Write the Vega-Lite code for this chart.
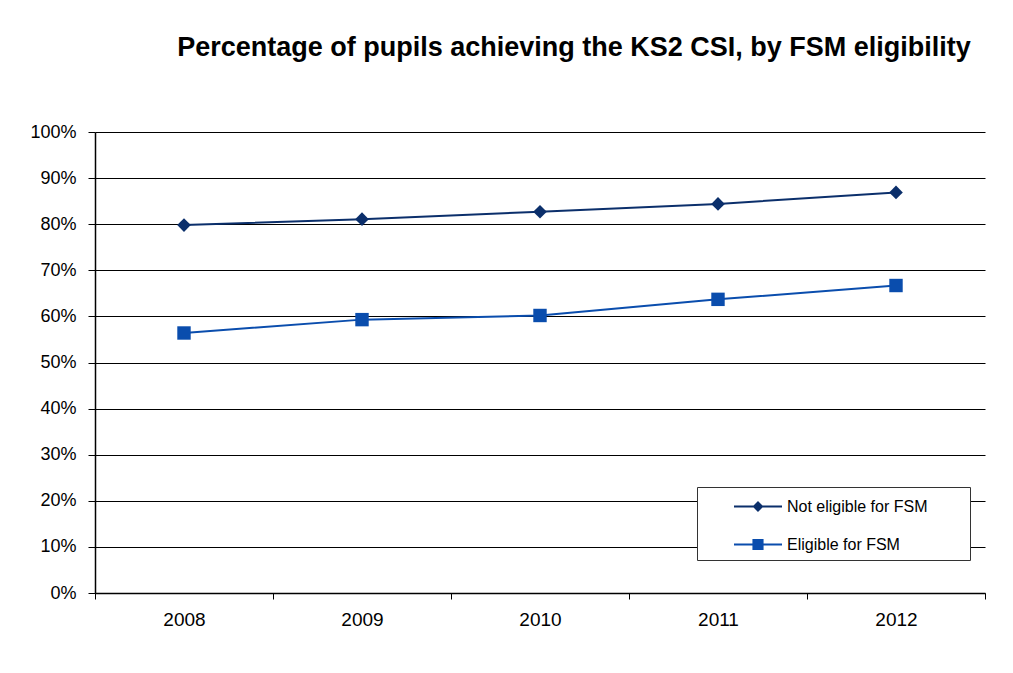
{
  "$schema": "https://vega.github.io/schema/vega-lite/v6.json",
  "width": 890,
  "height": 461,
  "autosize": "none",
  "padding": {"left": 95, "top": 132, "right": 28, "bottom": 80},
  "background": "white",
  "config": {
    "font": "Liberation Sans",
    "view": {"stroke": null},
    "axis": {"labelFont": "Liberation Sans", "labelColor": "#000", "domainColor": "#000", "tickColor": "#000", "titleFont": "Liberation Sans"}
  },
  "title": {
    "text": "Percentage of pupils achieving the KS2 CSI, by FSM eligibility",
    "font": "Liberation Sans",
    "fontSize": 27,
    "fontWeight": "bold",
    "color": "#000",
    "anchor": "middle",
    "baseline": "alphabetic",
    "dx": 34,
    "offset": 40
  },
  "data": {
    "values": [
      {"year": "2008", "series": "Not eligible for FSM", "pct": 79.8},
      {"year": "2009", "series": "Not eligible for FSM", "pct": 81.1},
      {"year": "2010", "series": "Not eligible for FSM", "pct": 82.7},
      {"year": "2011", "series": "Not eligible for FSM", "pct": 84.4},
      {"year": "2012", "series": "Not eligible for FSM", "pct": 86.9},
      {"year": "2008", "series": "Eligible for FSM", "pct": 56.4},
      {"year": "2009", "series": "Eligible for FSM", "pct": 59.3},
      {"year": "2010", "series": "Eligible for FSM", "pct": 60.2},
      {"year": "2011", "series": "Eligible for FSM", "pct": 63.7},
      {"year": "2012", "series": "Eligible for FSM", "pct": 66.7}
    ]
  },
  "encoding": {
    "x": {
      "field": "year",
      "type": "ordinal",
      "scale": {"type": "band", "paddingInner": 0, "paddingOuter": 0},
      "axis": {"title": null, "labelAngle": 0, "labelFontSize": 19, "tickBand": "extent", "tickSize": 6, "labelPadding": 11, "domainWidth": 1.5, "grid": false}
    },
    "y": {
      "field": "pct",
      "type": "quantitative",
      "scale": {"domain": [0, 100], "nice": false},
      "axis": {"title": null, "values": [0, 10, 20, 30, 40, 50, 60, 70, 80, 90, 100], "labelExpr": "datum.value + '%'", "labelFontSize": 18, "tickSize": 7, "labelPadding": 12, "grid": true, "gridColor": "#000", "gridWidth": 1, "gridOpacity": 1, "domainWidth": 1.5}
    },
    "color": {
      "field": "series",
      "type": "nominal",
      "scale": {"domain": ["Not eligible for FSM", "Eligible for FSM"], "range": ["#0B2F6B", "#0A4DAD"]},
      "legend": {
        "title": null,
        "orient": "none",
        "legendX": 602,
        "legendY": 355,
        "direction": "vertical",
        "fillColor": "white",
        "strokeColor": "#333",
        "padding": 6.5,
        "symbolOffset": 41.5,
        "symbolSize": 576,
        "symbolStrokeWidth": 2,
        "rowPadding": 16,
        "labelFont": "Liberation Sans",
        "labelFontSize": 16,
        "labelColor": "#000",
        "labelOffset": 16,
        "labelLimit": 400,
        "labelExpr": "datum.label + '\u2800\u2800\u2800'",
        "encode": {
          "symbols": {
            "update": {
              "shape": {"signal": "datum.value === 'Not eligible for FSM' ? 'M-2,0H2M0,-0.34L0.34,0L0,0.34L-0.34,0Z' : 'M-2,0H2M-0.38,-0.38H0.38V0.38H-0.38Z'"},
              "fill": {"signal": "datum.value === 'Not eligible for FSM' ? '#0B2F6B' : '#0A4DAD'"},
              "stroke": {"signal": "datum.value === 'Not eligible for FSM' ? '#0B2F6B' : '#0A4DAD'"}
            }
          }
        }
      }
    }
  },
  "layer": [
    {
      "mark": {"type": "line", "strokeWidth": 2}
    },
    {
      "transform": [{"filter": "datum.series === 'Not eligible for FSM'"}],
      "mark": {"type": "point", "shape": "diamond", "size": 185, "filled": true, "opacity": 1}
    },
    {
      "transform": [{"filter": "datum.series === 'Eligible for FSM'"}],
      "mark": {"type": "point", "shape": "square", "size": 180, "filled": true, "opacity": 1}
    }
  ]
}
